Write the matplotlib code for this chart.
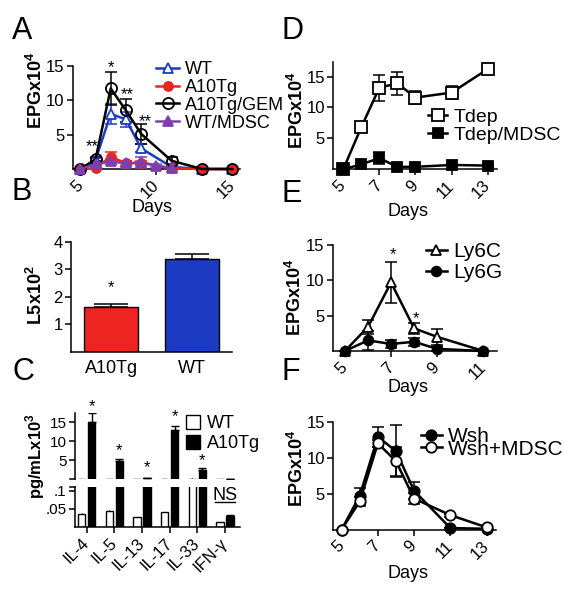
import matplotlib
matplotlib.use('Agg')
import matplotlib.pyplot as plt
from matplotlib.patches import Patch

plt.rcParams['font.family'] = ['Liberation Sans', 'DejaVu Sans']
plt.rcParams['mathtext.fontset'] = 'custom'
plt.rcParams['mathtext.rm'] = 'Liberation Sans'
plt.rcParams['mathtext.bf'] = 'Liberation Sans:bold'

W, H = 564, 600

# ---- panel A: EPG after infection ----
days_a = [5, 6, 7, 8, 9, 11, 13, 15]
wt_a = [0, 1.3, 8.0, 7.2, 3.0, 0.3, 0, 0]
wt_a_err = [0, 0.3, 1.5, 1.1, 0.6, 0.2, 0, 0]
a10tg_a = [0, 0.1, 1.8, 0.8, 0.9, 0.1, 0, 0]
a10tg_a_err = [0, 0.1, 0.7, 0.3, 0.3, 0.1, 0, 0]
gem_a = [0, 1.4, 11.7, 8.5, 5.1, 1.2, 0, 0]
gem_a_err = [0, 0.3, 2.4, 1.7, 1.4, 0.5, 0, 0]
days_mdsc_a = [5, 6, 7, 8, 9, 10, 11]
mdsc_a = [0, 0.7, 1.1, 0.8, 1.0, 0.5, 0.1]
mdsc_a_err = [0, 0.2, 0.4, 0.3, 0.8, 0.2, 0.1]

# ---- panel B: L5 counts ----
groups_b = ['A10Tg', 'WT']
l5_b = [1.62, 3.37]
l5_b_err = [0.12, 0.2]

# ---- panel C: cytokines ----
cytokines = ['IL-4', 'IL-5', 'IL-13', 'IL-17', 'IL-33', 'IFN-γ']
wt_c = [0.036, 0.045, 0.026, 0.040, 0.2, 0.012]
wt_c_err = [0.002, 0.002, 0.002, 0.002, 0.05, 0.002]
a10tg_c = [15.2, 4.8, 0.4, 13.0, 2.4, 0.031]
a10tg_c_err = [2.3, 0.6, 0.05, 1.2, 0.7, 0.002]
star_c = [19.3, 7.6, 3.0, 16.5, 5.0]

# ---- panel D: Tdep ----
days_d = [5, 6, 7, 8, 9, 11, 13]
tdep = [0, 6.8, 13.2, 13.9, 11.6, 12.4, 16.2]
tdep_err = [0, 0.4, 2.1, 1.9, 1.0, 1.0, 0.5]
tdep_mdsc = [0, 0.8, 1.8, 0.4, 0.4, 0.7, 0.6]
tdep_mdsc_err = [0, 0.2, 1.0, 0.2, 0.2, 0.2, 0.2]

# ---- panel E: Ly6C / Ly6G ----
days_e = [5, 6, 7, 8, 9, 11]
ly6c = [0, 3.4, 9.7, 3.2, 2.0, 0]
ly6c_err = [0, 1.0, 2.9, 0.8, 1.1, 0]
ly6g = [0, 1.5, 1.0, 1.3, 0.3, 0]
ly6g_err = [0, 1.4, 0.6, 0.6, 0.3, 0]

# ---- panel F: Wsh ----
days_f = [5, 6, 7, 8, 9, 11, 13]
wsh = [0, 4.7, 12.9, 10.9, 5.4, 0.2, 0.1]
wsh_err = [0, 1.1, 1.4, 3.6, 1.2, 0, 0]
wsh_mdsc = [0, 3.9, 12.0, 9.5, 4.3, 2.0, 0.3]
wsh_mdsc_err = [0, 0.6, 0.5, 2.0, 0.8, 0.2, 0.1]

BLUE = '#1b3cc2'
RED = '#ee2420'
PURPLE = '#7d3fae'

fig = plt.figure(figsize=(W / 100, H / 100), dpi=100)


def px_axes(left, top, right, bottom):
    return fig.add_axes([left / W, 1 - bottom / H, (right - left) / W, (bottom - top) / H])


def style(ax, ticksize=12):
    for s in ('top', 'right'):
        ax.spines[s].set_visible(False)
    for s in ('left', 'bottom'):
        ax.spines[s].set_linewidth(1.1)
    ax.tick_params(direction='out', length=4, width=1.1, labelsize=ticksize, pad=2)


def series(ax, x, y, err, color, marker, face, ms=6.5, lw=1.8):
    ax.errorbar(x, y, yerr=err, fmt='none', ecolor=color, elinewidth=1.1,
                capsize=4, capthick=1.1, clip_on=False, zorder=3)
    line, = ax.plot(x, y, color=color, marker=marker, mfc=face, mec=color,
                    ms=ms, lw=lw, mew=1.3, clip_on=False, zorder=4)
    return line


def rot_days(ax, ticks):
    ax.set_xticks(ticks)
    ax.set_xticklabels([str(t) for t in ticks], rotation=45, ha='right',
                       rotation_mode='anchor', va='center')
    ax.tick_params(axis='x', pad=6)


def ylab(x, y, text, size=13):
    fig.text(x / W, 1 - y / H, text, rotation=90, ha='center', va='center',
             fontsize=size, fontweight='bold')


def label(x, y, text, size=13):
    fig.text(x / W, 1 - y / H, text, ha='center', va='center', fontsize=size)


def letter(x, y, text):
    fig.text(x / W, 1 - y / H, text, ha='left', va='center', fontsize=22)


def upper_only(err):
    return [[0] * len(err), err]


EPG = r'EPGx10$^{\mathbf{4}}$'

# ================= A =================
ax = px_axes(72.7, 65.7, 240, 169)
style(ax)
h1 = series(ax, days_a, wt_a, wt_a_err, BLUE, '^', 'white')
h2 = series(ax, days_a, a10tg_a, a10tg_a_err, RED, 'o', RED)
h3 = series(ax, days_a, gem_a, gem_a_err, 'black', 'o', 'none', ms=8)
h4 = series(ax, days_mdsc_a, mdsc_a, mdsc_a_err, PURPLE, '^', PURPLE)
ax.set_xlim(4.5, 15.5)
ax.set_ylim(0, 15)
ax.set_yticks([5, 10, 15])
rot_days(ax, [5, 10, 15])
for x, y, s in [(5.8, 3.3, '**'), (7, 14.7, '*'), (8.1, 10.8, '**'), (9.25, 6.9, '**')]:
    ax.text(x, y, s, ha='center', va='center', fontsize=12)
fig.legend([h1, h2, h3, h4], ['WT', 'A10Tg', 'A10Tg/GEM', 'WT/MDSC'],
           loc='upper left', bbox_to_anchor=(156 / W, 1 - 61 / H), frameon=False,
           fontsize=13, handlelength=1.3, handletextpad=0.3, labelspacing=0.05,
           borderpad=0, borderaxespad=0)
ylab(36, 90, EPG)
label(152, 208, 'Days')

# ================= B =================
ax = px_axes(71, 241.7, 232, 352)
style(ax)
xb = range(len(groups_b))
ax.bar(xb, l5_b, width=0.67, color=[RED, BLUE], edgecolor='black', lw=1,
       yerr=upper_only(l5_b_err), capsize=12, error_kw=dict(elinewidth=1.1, capthick=1.1))
ax.set_xlim(-0.5, 1.5)
ax.set_ylim(0, 4)
ax.set_yticks([1, 2, 3, 4])
ax.set_xticks(list(xb))
ax.set_xticklabels(groups_b, fontsize=13)
ax.tick_params(axis='x', length=0, pad=6)
ax.text(0, 2.35, '*', ha='center', va='center', fontsize=12)
ylab(36, 295, r'L5x10$^{\mathbf{2}}$')

# ================= C =================
xc = list(range(len(cytokines)))
off, bw = 0.18, 0.26
up = px_axes(75, 413, 240, 479.3)
lo = px_axes(75, 487.3, 240, 526.7)
for a in (up, lo):
    style(a, ticksize=11)
    a.bar([x - off for x in xc], wt_c, width=bw, color='white', edgecolor='black',
          lw=1, yerr=upper_only(wt_c_err), capsize=0, error_kw=dict(elinewidth=1))
    a.bar([x + off for x in xc], a10tg_c, width=bw, color='black', edgecolor='black',
          lw=1, yerr=upper_only(a10tg_c_err), capsize=3,
          error_kw=dict(elinewidth=1, capthick=1))
    a.set_xlim(-0.42, 5.54)
up.set_ylim(0, 17.5)
up.set_yticks([5, 10, 15])
up.spines['bottom'].set_visible(False)
up.set_xticks([])
lo.set_ylim(0, 0.11)
lo.set_yticks([0.05, 0.1])
lo.set_yticklabels(['.05', '.1'])
lo.set_xticks(xc)
lo.set_xticklabels(cytokines, rotation=45, ha='right', rotation_mode='anchor',
                   va='center', fontsize=12)
lo.tick_params(axis='x', pad=6)
# break marks on the y axis
up.plot([-0.03, 0], [0, 0], transform=up.transAxes, color='black', lw=1.1, clip_on=False)
lo.plot([-0.03, 0], [1, 1], transform=lo.transAxes, color='black', lw=1.1, clip_on=False)
for x, y in zip(xc, star_c):
    up.text(x + off, y, '*', ha='center', va='center', fontsize=12)
lo.text(xc[-1], 0.086, 'NS', ha='center', va='center', fontsize=13)
lo.plot([xc[-1] - 0.35, xc[-1] + 0.35], [0.07, 0.07], color='black', lw=1)
fig.legend([Patch(facecolor='white', edgecolor='black'), Patch(facecolor='black', edgecolor='black')],
           ['WT', 'A10Tg'], loc='upper left', bbox_to_anchor=(186 / W, 1 - 415 / H),
           frameon=False, fontsize=13, handlelength=0.8, handleheight=0.8,
           handletextpad=0.35, labelspacing=0.15, borderpad=0, borderaxespad=0)
ylab(35, 456, r'pg/mLx10$^{\mathbf{3}}$', size=12)

# ================= D =================
ax = px_axes(333.3, 61.7, 496.7, 169.3)
style(ax)
d1 = series(ax, days_d, tdep, tdep_err, 'black', 's', 'white', ms=8)
d2 = series(ax, days_d, tdep_mdsc, tdep_mdsc_err, 'black', 's', 'black', ms=7)
ax.set_xlim(4.45, 13.5)
ax.set_ylim(0, 17.4)
ax.set_yticks([5, 10, 15])
rot_days(ax, [5, 7, 9, 11, 13])
fig.legend([d1, d2], ['Tdep', 'Tdep/MDSC'], loc='upper left',
           bbox_to_anchor=(428 / W, 1 - 108 / H), frameon=False, fontsize=14,
           handlelength=1.0, handletextpad=0.3, labelspacing=0.05,
           borderpad=0, borderaxespad=0)
ylab(297, 110, EPG)
label(408, 212, 'Days')

# ================= E =================
ax = px_axes(332.7, 245, 496.7, 351)
style(ax)
e1 = series(ax, days_e, ly6c, ly6c_err, 'black', '^', 'white', ms=7)
e2 = series(ax, days_e, ly6g, ly6g_err, 'black', 'o', 'black', ms=7)
ax.set_xlim(4.47, 11.58)
ax.set_ylim(0, 15)
ax.set_yticks([5, 10, 15])
rot_days(ax, [5, 7, 9, 11])
ax.text(7.1, 13.6, '*', ha='center', va='center', fontsize=12)
ax.text(8.1, 4.6, '*', ha='center', va='center', fontsize=12)
fig.legend([e1, e2], ['Ly6C', 'Ly6G'], loc='upper left',
           bbox_to_anchor=(426 / W, 1 - 242 / H), frameon=False, fontsize=15,
           handlelength=1.0, handletextpad=0.3, labelspacing=0.1,
           borderpad=0, borderaxespad=0)
ylab(295, 297, EPG)
label(408, 388, 'Days')

# ================= F =================
ax = px_axes(333.3, 421.7, 496, 529.5)
style(ax)
f1 = series(ax, days_f, wsh, wsh_err, 'black', 'o', 'black', ms=7.5)
f2 = series(ax, days_f, wsh_mdsc, wsh_mdsc_err, 'black', 'o', 'white', ms=7.5)
ax.set_xlim(4.54, 13.52)
ax.set_ylim(0, 15)
ax.set_yticks([5, 10, 15])
rot_days(ax, [5, 7, 9, 11, 13])
fig.legend([f1, f2], ['Wsh', 'Wsh+MDSC'], loc='upper left',
           bbox_to_anchor=(421 / W, 1 - 427 / H), frameon=False, fontsize=15,
           handlelength=1.0, handletextpad=0.3, labelspacing=-0.3,
           borderpad=0, borderaxespad=0)
ylab(297, 468, EPG)
label(408, 573, 'Days')

# panel letters
letter(12, 31, 'A')
letter(12, 192, 'B')
letter(12, 372, 'C')
letter(281, 31, 'D')
letter(281, 194, 'E')
letter(281, 372, 'F')

fig.savefig('out.png', dpi=100)
